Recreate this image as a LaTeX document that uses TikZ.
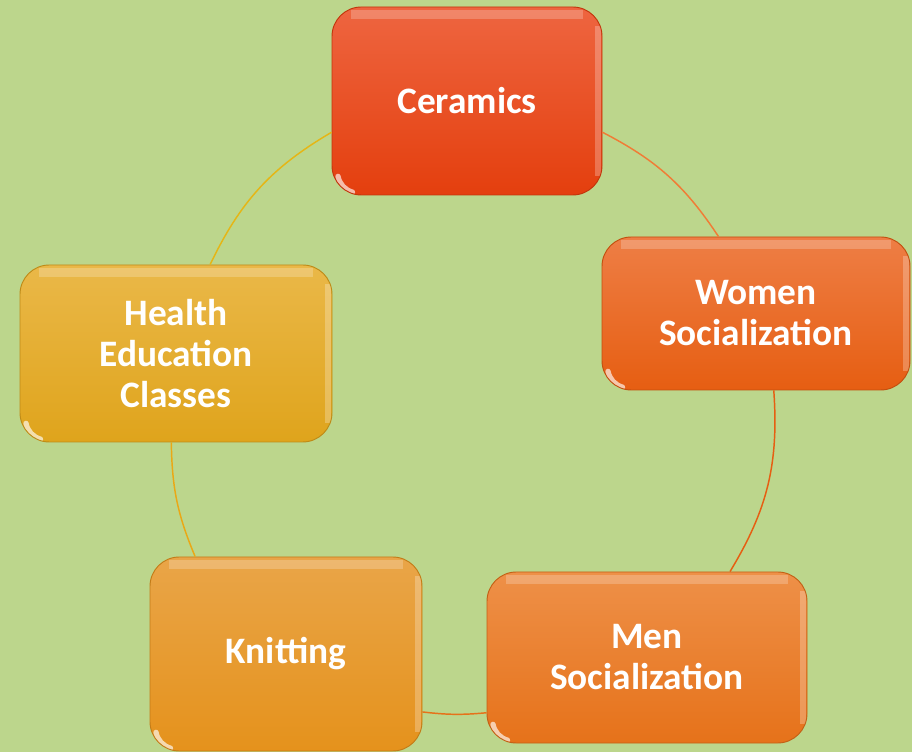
\documentclass[tikz,border=0pt]{standalone}
\usepackage{fontspec}
\setmainfont{Carlito}
\usepackage{tikz}
\usetikzlibrary{arrows.meta,positioning}
\usepackage{xcolor}
\definecolor{meadow}{HTML}{BCD68C}
\definecolor{brickT}{HTML}{EE6540}
\definecolor{brickB}{HTML}{E43F0E}
\definecolor{rustT}{HTML}{EE7E45}
\definecolor{rustB}{HTML}{E65E12}
\definecolor{tanT}{HTML}{EE9048}
\definecolor{tanB}{HTML}{E6721A}
\definecolor{honeyT}{HTML}{E9A548}
\definecolor{honeyB}{HTML}{E5921C}
\definecolor{goldT}{HTML}{EAB848}
\definecolor{goldB}{HTML}{DFA41C}
\tikzset{tilebox/.style 2 args={rounded corners=22pt,inner sep=0pt,align=center,text=white,top color=#1,bottom color=#2,draw=#2!85!black,line width=.7pt,font=\fontsize{28}{30.75}\selectfont\bfseries,
  path picture={\fill[white,opacity=.22,rounded corners=0pt] ([xshift=14pt,yshift=-2pt]path picture bounding box.north west) rectangle ([xshift=-14pt,yshift=-9pt]path picture bounding box.north east);
  \fill[white,opacity=.25,rounded corners=0pt] ([xshift=-5pt,yshift=14pt]path picture bounding box.south east) rectangle ([xshift=-1pt,yshift=-14pt]path picture bounding box.north east);
  \draw[white,opacity=.65,line width=4pt,line cap=round,rounded corners=0pt] ([xshift=4.5pt,yshift=14pt]path picture bounding box.south west) arc[start angle=190,end angle=255,radius=15pt];}},
ring/.style={line width=1.1pt}}

\begin{document}
\begin{tikzpicture}[x=.75pt,y=.75pt]
\fill[meadow] (0,0) rectangle (912,752);
\useasboundingbox (0,0) rectangle (912,752);
\node[tilebox={brickT}{brickB},minimum width=202.5pt,minimum height=141pt] (ceramics) at (467,651) {Ceramics};
\node[tilebox={rustT}{rustB},minimum width=231pt,minimum height=114.75pt] (women) at (756,438.5) {Women\\Socialization};
\node[tilebox={tanT}{tanB},minimum width=240pt,minimum height=128.25pt] (men) at (647,94.5) {Men\\Socialization};
\node[tilebox={honeyT}{honeyB},minimum width=204pt,minimum height=145.5pt] (knitting) at (286,98) {Knitting};
\node[tilebox={goldT}{goldB},minimum width=234pt,minimum height=132.75pt] (health) at (176,398.5) {Health\\Education\\Classes};
\draw[ring,brickT!85!yellow] (ceramics.-13) to[bend left=14.6] (women.116);
\draw[ring,rustB] (women.-77) to[bend left=17.6] (men.46);
\draw[ring,tanB] (men.199) to[bend left=6] (knitting.-23);
\draw[ring,honeyB!80!yellow] (knitting.133) to[bend left=11] (health.267);
\draw[ring,goldB!80!yellow] (health.69) to[bend left=17] (ceramics.193);
\end{tikzpicture}
\end{document}
